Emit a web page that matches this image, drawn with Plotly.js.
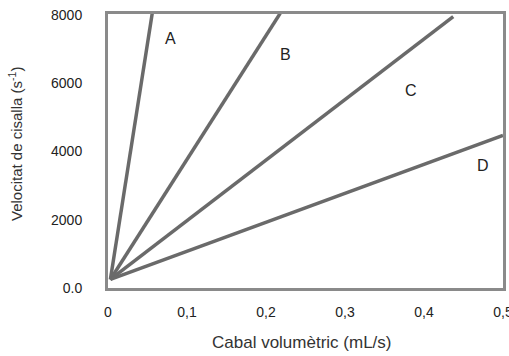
<!DOCTYPE html>
<html><head><meta charset="utf-8">
<script src="https://cdn.plot.ly/plotly-3.0.1.min.js"></script>
<style>html,body{margin:0;padding:0;background:#fff}#c{width:509px;height:356px}</style>
</head><body><div id="c"></div>
<script>
const seriesNames = ["A","B","C","D"];
const startX = [0.003, 0.003, 0.003, 0.003];
const startY = [250, 250, 250, 250];
const endX = [0.056, 0.218, 0.437, 0.5];
const endY = [8050, 8050, 7950, 4470];
const labelX = [0.079, 0.225, 0.383, 0.475];
const labelY = [7300, 6830, 5780, 3590];
const xTickVals = [0, 0.1, 0.2, 0.3, 0.4, 0.5];
const xTickText = ["0", "0,1", "0,2", "0,3", "0,4", "0,5"];
const yTickVals = [0, 2000, 4000, 6000, 8000];
const yTickText = ["0.0", "2000", "4000", "6000", "8000"];
const xTitle = "Cabal volumètric (mL/s)";
const yTitle = "Velocitat de cisalla (s<sup>-1</sup>)";

const FAM = "Liberation Sans, Arial, sans-serif";
const traces = seriesNames.map((n, i) => ({
  type: "scatter", mode: "lines",
  x: [startX[i], endX[i]], y: [startY[i], endY[i]],
  line: {color: "#6a6a6a", width: 3.5},
  hoverinfo: "skip", showlegend: false
}));
const annotations = seriesNames.map((n, i) => ({
  x: labelX[i], y: labelY[i], xref: "x", yref: "y", text: n, showarrow: false,
  font: {family: FAM, size: 16, color: "#222"}
}));
annotations.push({
  x: 0.491, y: -0.2007, xref: "paper", yref: "paper", xanchor: "center", yanchor: "middle",
  text: xTitle, showarrow: false, font: {family: FAM, size: 17, color: "#333"}
});
annotations.push({
  x: -0.2354, y: 0.5255, xref: "paper", yref: "paper", xanchor: "center", yanchor: "middle",
  text: yTitle, textangle: -90, showarrow: false, font: {family: FAM, size: 15, color: "#333"}
});
const font = {family: FAM, size: 14, color: "#222"};
Plotly.newPlot("c", traces, {
  width: 509, height: 356,
  margin: {l: 108, r: 6, t: 14, b: 68},
  paper_bgcolor: "#fff", plot_bgcolor: "#fff",
  font: font,
  showlegend: false,
  xaxis: {
    range: [0, 0.5], tickvals: xTickVals, ticktext: xTickText,
    showgrid: false, zeroline: false, showline: true, mirror: true,
    linecolor: "#8a8a8a", linewidth: 3, ticks: "", ticklabelstandoff: 9,
    ticklabeloverflow: "allow", automargin: false,
    tickfont: font
  },
  yaxis: {
    range: [0, 8030], tickvals: yTickVals, ticktext: yTickText,
    showgrid: false, zeroline: false, showline: true, mirror: true,
    linecolor: "#8a8a8a", linewidth: 3, ticks: "", ticklabelstandoff: 20,
    automargin: false,
    tickfont: font
  },
  annotations: annotations
}, {displayModeBar: false, staticPlot: true});
</script></body></html>
